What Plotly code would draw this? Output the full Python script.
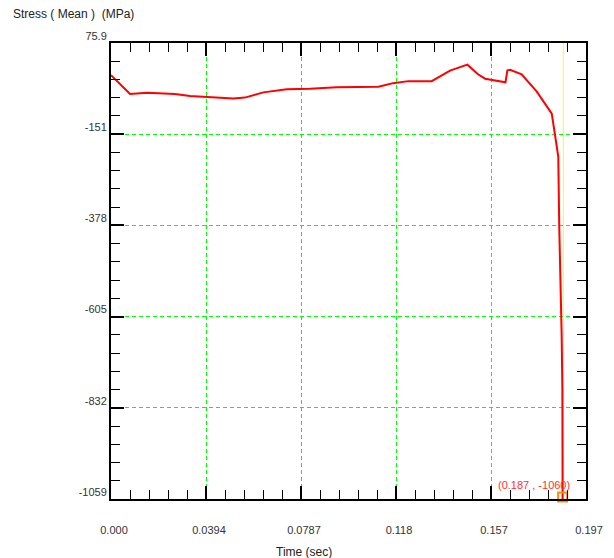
import plotly.graph_objects as go

# ---- data ----
time_s = [0.0, 0.0079, 0.015, 0.0265, 0.0328, 0.041, 0.0507, 0.0555, 0.0632, 0.0729,
          0.0825, 0.0936, 0.1109, 0.117, 0.1233, 0.133, 0.1406, 0.1478, 0.1492, 0.1522,
          0.1552, 0.1576, 0.1636, 0.1644, 0.1655, 0.1703, 0.1766, 0.1828, 0.1837, 0.1855,
          0.1859, 0.1865, 0.1869, 0.1872, 0.1873]
stress_mpa = [-4, -51, -48, -51, -56, -59, -62, -60, -47, -39,
              -38, -34, -33, -24, -19, -19, 7, 22, 15, -2,
              -13, -16, -22, 8, 9, -2, -45, -100, -135, -207,
              -381, -530, -651, -788, -1060]

x_tick_values = [0.0, 0.0394, 0.0788, 0.1182, 0.1576, 0.197]
x_tick_labels = ["0.000", "0.0394", "0.0787", "0.118", "0.157", "0.197"]
y_tick_values = [75.9, -151.0, -378.0, -605.0, -832.0, -1059.0]
y_tick_labels = ["75.9", "-151", "-378", "-605", "-832", "-1059"]

cursor_time = 0.1876
marker_time = 0.1873
marker_stress = -1054
cursor_label = "(0.187 , -1060)"

x_range = [0.0, 0.197]
y_range = [-1059.0, 75.9]


def minor_vals(major, n=5):
    out = []
    for a, b in zip(major[:-1], major[1:]):
        for k in range(1, n):
            out.append(a + (b - a) * k / n)
    return out


font_family = "Liberation Sans, Arial, sans-serif"

fig = go.Figure()
fig.add_trace(go.Scatter(x=time_s, y=stress_mpa, mode="lines",
                         line=dict(color="#ff0000", width=2), hoverinfo="skip",
                         showlegend=False))
fig.add_trace(go.Scatter(x=[marker_time], y=[marker_stress], mode="markers",
                         marker=dict(symbol="square-open", size=9,
                                     color="#ff8c00", line=dict(width=2, color="#ff8c00")),
                         cliponaxis=False, showlegend=False, hoverinfo="skip"))

fig.add_shape(type="line", xref="x", yref="paper", x0=cursor_time, x1=cursor_time,
              y0=0, y1=1, line=dict(color="#ffff00", width=1), layer="below")

fig.add_annotation(x=cursor_time, y=y_range[0], xref="x", yref="y",
                   text=cursor_label, showarrow=False, xanchor="right", yanchor="bottom",
                   xshift=9, yshift=6,
                   font=dict(family=font_family, size=11, color="#ff3030"))

fig.add_annotation(x=(304 - 111) / 475, y=-(551.7 - 499) / 456, xref="paper", yref="paper",
                   text="Time (sec)", showarrow=False, xanchor="center", yanchor="middle",
                   font=dict(family=font_family, size=12, color="#222222"))

axis_common = dict(
    showline=True, linewidth=2, linecolor="black", mirror="ticks",
    ticks="inside", tickwidth=2, tickcolor="black",
    showgrid=True, gridcolor="#00ff00", gridwidth=1, griddash="4px,3px",
    zeroline=False, tickmode="array",
    tickfont=dict(family=font_family, size=11, color="#333333"),
)

fig.update_xaxes(**axis_common, range=x_range, tickvals=x_tick_values, ticktext=x_tick_labels,
                 ticklen=13, ticklabelstandoff=20, ticklabelshift=3,
                 minor=dict(tickmode="array", tickvals=minor_vals(x_tick_values),
                            ticks="inside", ticklen=9, tickwidth=1, tickcolor="black",
                            showgrid=False))
fig.update_yaxes(**axis_common, range=y_range, tickvals=y_tick_values, ticktext=y_tick_labels,
                 ticklen=13, ticklabelstandoff=0, ticklabelshift=-7,
                 minor=dict(tickmode="array", tickvals=minor_vals(y_tick_values),
                            ticks="inside", ticklen=9, tickwidth=1, tickcolor="black",
                            showgrid=False))

fig.update_layout(
    width=614, height=558,
    margin=dict(l=111, r=28, t=43, b=59, pad=0),
    paper_bgcolor="white", plot_bgcolor="white",
    title=dict(text="Stress ( Mean )  (MPa)", x=13 / 614, xanchor="left",
               y=1 - 14 / 558, yanchor="middle",
               font=dict(family=font_family, size=12, color="#222222")),
    showlegend=False,
)

fig.write_html("out.html")
